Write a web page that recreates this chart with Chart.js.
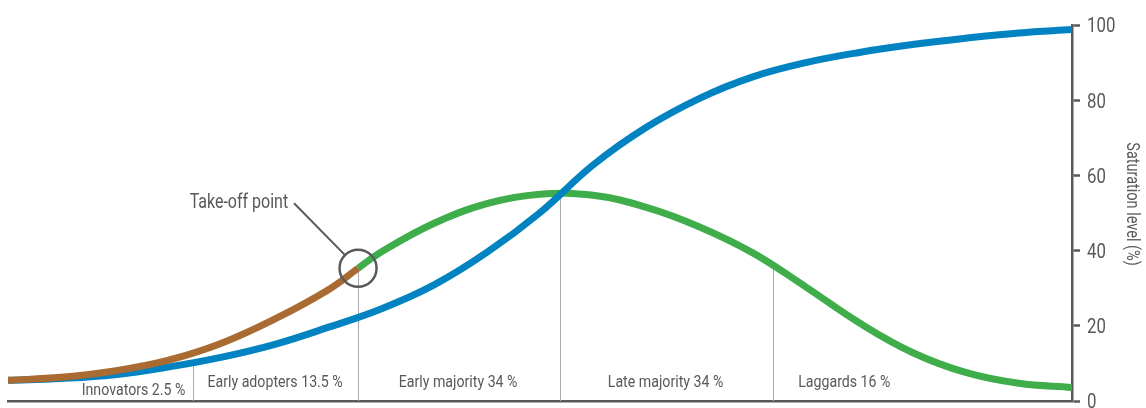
<!DOCTYPE html>
<html>
<head>
<meta charset="utf-8">
<script src="https://cdn.jsdelivr.net/npm/chart.js@4/dist/chart.umd.min.js"></script>
<style>
  html, body { margin: 0; padding: 0; background: #fff; }
  #wrap { width: 1146px; height: 408px; }
</style>
</head>
<body>
<div id="wrap"><canvas id="adoptionChart"></canvas></div>
<script>
// market saturation (cumulative adoption)
const xSteps = [0, 5, 10, 15, 20, 25, 30, 35, 40, 45, 50, 55, 60, 65, 70, 75, 80, 85, 90, 95, 100];
const saturation = [5.5, 6.0, 7.0, 9.0, 11.6, 15.0, 19.5, 24.4, 30.8, 39.5, 50.1, 62.8, 72.8, 80.5, 86.2, 90.0, 92.7, 94.8, 96.5, 97.9, 98.8];

// adoption rate (bell curve), split at the take-off point
const earlyX = [0, 5, 10, 15, 20, 25, 30, 32.9];
const earlyRate = [5.5, 6.3, 8.0, 10.8, 15.3, 21.7, 29.4, 35.3];
const laterX = [32.9, 35, 40, 45, 50, 55, 60, 65, 70, 75, 80, 85, 90, 95, 100];
const laterRate = [35.3, 39.5, 47.2, 52.5, 55.0, 54.7, 51.5, 46.3, 39.4, 30.3, 20.8, 12.9, 7.6, 4.7, 3.6];

// adopter segments
const segmentNames = ["Innovators 2.5 %", "Early adopters 13.5 %", "Early majority 34 %", "Late majority 34 %", "Laggards 16 %"];
const dividerX = [17.4, 32.9, 51.9, 71.9];
const dividerTop = [10.2, 35.3, 55.3, 35.5];

const yTicks = [0, 20, 40, 60, 80, 100];
const yTitle = "Saturation level (%)";
const takeOff = { x: 32.9, y: 35.3, label: "Take-off point" };

// annotation layout (x centre, baseline y) in chart units
const segLabelPos = [[11.8, 1.5], [25.1, 3.6], [42.3, 3.6], [61.8, 3.6], [78.6, 3.6]];
const takeOffLabelPos = [21.7, 51.3];

const FONT = "Roboto, 'Liberation Sans', sans-serif";
const TEXT = "#58595b";
const AXIS = "#58595b";
const SQUEEZE = 0.82; // narrow the text like a condensed face

function pts(xs, ys) {
    return xs.map((x, i) => ({ x: x, y: ys[i] }));
}

function narrowText(ctx, text, x, y, size, align, rotate) {
    ctx.save();
    ctx.translate(x, y);
    if (rotate) ctx.rotate(rotate);
    ctx.scale(SQUEEZE, 1);
    ctx.font = size + "px " + FONT;
    ctx.textAlign = align;
    ctx.textBaseline = "alphabetic";
    ctx.fillStyle = TEXT;
    ctx.fillText(text, 0, 0);
    ctx.restore();
}

const annotations = {
    id: "annotations",
    beforeDatasetsDraw(chart) {
        const { ctx, chartArea, scales: { x, y } } = chart;
        ctx.save();
        ctx.strokeStyle = "#a7a9ac";
        ctx.lineWidth = 1;
        dividerX.forEach((d, i) => {
            const px = Math.round(x.getPixelForValue(d)) + 0.5;
            ctx.beginPath();
            ctx.moveTo(px, y.getPixelForValue(dividerTop[i]));
            ctx.lineTo(px, chartArea.bottom);
            ctx.stroke();
        });
        ctx.restore();
    },
    afterDatasetsDraw(chart) {
        const { ctx, chartArea, scales: { x, y } } = chart;

        segmentNames.forEach((name, i) => {
            narrowText(ctx, name, x.getPixelForValue(segLabelPos[i][0]), y.getPixelForValue(segLabelPos[i][1]), 17.3, "center");
        });

        // take-off marker
        const cx = x.getPixelForValue(takeOff.x);
        const cy = y.getPixelForValue(takeOff.y);
        const r = 18.5;
        ctx.save();
        ctx.strokeStyle = AXIS;
        ctx.lineWidth = 2.5;
        ctx.beginPath();
        ctx.arc(cx, cy, r, 0, Math.PI * 2);
        ctx.stroke();
        const sx = cx - 64, sy = cy - 65;
        const len = Math.hypot(cx - sx, cy - sy);
        ctx.lineWidth = 2;
        ctx.beginPath();
        ctx.moveTo(sx, sy);
        ctx.lineTo(cx - (cx - sx) * r / len, cy - (cy - sy) * r / len);
        ctx.stroke();
        ctx.restore();
        narrowText(ctx, takeOff.label, x.getPixelForValue(takeOffLabelPos[0]), y.getPixelForValue(takeOffLabelPos[1]), 19.5, "center");

        // right axis labels and title
        yTicks.forEach(v => {
            narrowText(ctx, String(v), chartArea.right + 15, y.getPixelForValue(v) + 7.3, 20.5, "left");
        });
        narrowText(ctx, yTitle, chartArea.right + 55, (chartArea.top + chartArea.bottom) / 2 - 9, 17.7, "center", Math.PI / 2);
    }
};

new Chart(document.getElementById("adoptionChart"), {
    type: "line",
    data: {
        datasets: [
            { label: "Before take-off", data: pts(earlyX, earlyRate), borderColor: "#a96b32" },
            { label: "Saturation", data: pts(xSteps, saturation), borderColor: "#0283c1" },
            { label: "Adoption", data: pts(laterX, laterRate), borderColor: "#3fae4a" }
        ]
    },
    options: {
        responsive: true,
        maintainAspectRatio: false,
        animation: false,
        layout: { padding: { left: 8, top: 25, right: 0, bottom: 0 } },
        elements: {
            line: { borderWidth: 7, tension: 0.4, fill: false, borderCapStyle: "butt" },
            point: { radius: 0, hoverRadius: 0 }
        },
        plugins: { legend: { display: false }, tooltip: { enabled: false } },
        scales: {
            x: {
                type: "linear",
                min: 0,
                max: 100,
                ticks: { display: false },
                grid: { display: false },
                border: { display: true, color: AXIS, width: 2.5 },
                afterFit(scale) {
                    scale.height = 7;
                    scale.paddingLeft = 0;
                    scale.paddingRight = 0;
                }
            },
            y: {
                position: "right",
                min: 0,
                max: 100,
                afterBuildTicks(scale) {
                    scale.ticks = yTicks.map(v => ({ value: v }));
                },
                ticks: { display: false },
                grid: { drawOnChartArea: false, drawTicks: true, tickLength: 8, tickColor: AXIS, tickWidth: 2.5 },
                border: { display: true, color: AXIS, width: 2.5 },
                afterFit(scale) {
                    scale.width = 74;
                    scale.paddingTop = 0;
                    scale.paddingBottom = 0;
                }
            }
        }
    },
    plugins: [annotations]
});
</script>
</body>
</html>
